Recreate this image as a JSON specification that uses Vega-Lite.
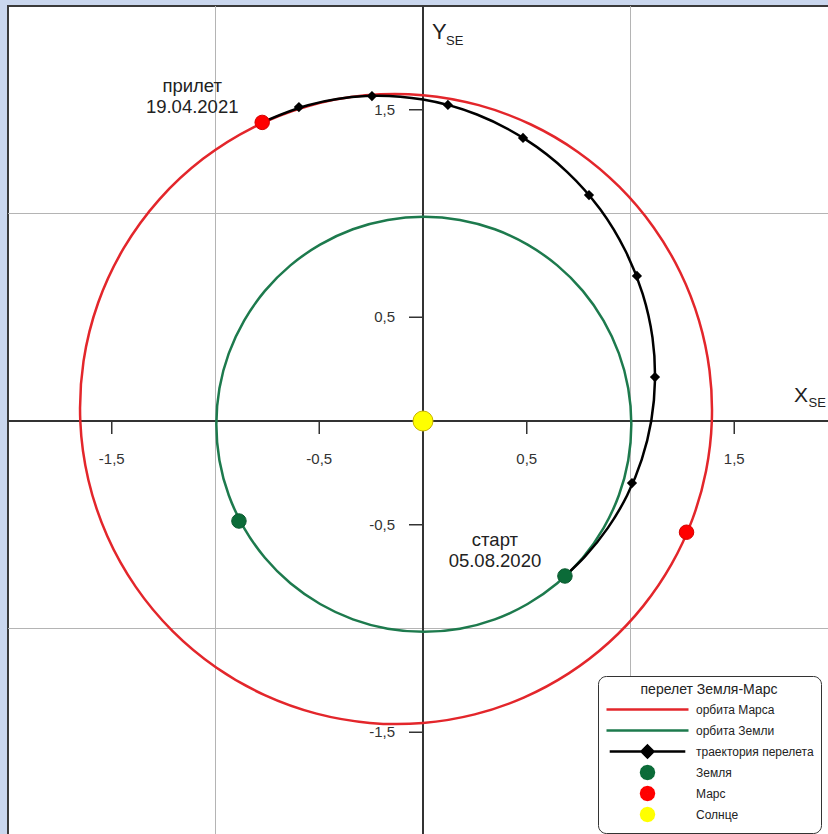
{
  "$schema": "https://vega.github.io/schema/vega-lite/v6.json",
  "width": 830,
  "height": 830,
  "autosize": {"type": "none"},
  "padding": {"left": 8, "top": 6, "right": 0, "bottom": 0},
  "background": "#cad7ee",
  "config": {
    "view": {"fill": "white", "stroke": "#3a3a3a", "strokeWidth": 2},
    "font": "Liberation Sans"
  },
  "datasets": {
    "grid": [{"v": -1}, {"v": 1}],
    "ticks": [
      {"v": -1.5, "label": "-1,5"}, {"v": -0.5, "label": "-0,5"},
      {"v": 0.5, "label": "0,5"}, {"v": 1.5, "label": "1,5"}
    ],
    "mars_orbit": [
      {"i": 0, "x": 1.3919, "y": 0}, {"i": 1, "x": 1.3808, "y": 0.2435}, {"i": 2, "x": 1.3302, "y": 0.4842},
      {"i": 3, "x": 1.2402, "y": 0.716}, {"i": 4, "x": 1.1117, "y": 0.9329}, {"i": 5, "x": 0.9467, "y": 1.1282},
      {"i": 6, "x": 0.748, "y": 1.2956}, {"i": 7, "x": 0.5201, "y": 1.4289}, {"i": 8, "x": 0.2684, "y": 1.5222},
      {"i": 9, "x": 0, "y": 1.5704}, {"i": 10, "x": -0.2768, "y": 1.5697}, {"i": 11, "x": -0.5525, "y": 1.5181},
      {"i": 12, "x": -0.8171, "y": 1.4152}, {"i": 13, "x": -1.0601, "y": 1.2633}, {"i": 14, "x": -1.2714, "y": 1.0669},
      {"i": 15, "x": -1.4423, "y": 0.8327}, {"i": 16, "x": -1.5655, "y": 0.5698}, {"i": 17, "x": -1.636, "y": 0.2885},
      {"i": 18, "x": -1.6516, "y": 0}, {"i": 19, "x": -1.6126, "y": -0.2843}, {"i": 20, "x": -1.5218, "y": -0.5539},
      {"i": 21, "x": -1.3843, "y": -0.7992}, {"i": 22, "x": -1.2067, "y": -1.0125}, {"i": 23, "x": -0.9967, "y": -1.1878},
      {"i": 24, "x": -0.7628, "y": -1.3212}, {"i": 25, "x": -0.5133, "y": -1.4104}, {"i": 26, "x": -0.2565, "y": -1.4549},
      {"i": 27, "x": 0, "y": -1.4554}, {"i": 28, "x": 0.2493, "y": -1.4139}, {"i": 29, "x": 0.4852, "y": -1.3331},
      {"i": 30, "x": 0.7023, "y": -1.2164}, {"i": 31, "x": 0.8959, "y": -1.0676}, {"i": 32, "x": 1.0619, "y": -0.891},
      {"i": 33, "x": 1.1971, "y": -0.6912}, {"i": 34, "x": 1.2986, "y": -0.4727}, {"i": 35, "x": 1.3641, "y": -0.2405}
    ],
    "earth_orbit": [
      {"i": 0, "x": 1.004, "y": -0.016}, {"i": 1, "x": 0.989, "y": 0.158}, {"i": 2, "x": 0.944, "y": 0.326},
      {"i": 3, "x": 0.87, "y": 0.484}, {"i": 4, "x": 0.77, "y": 0.627}, {"i": 5, "x": 0.647, "y": 0.75},
      {"i": 6, "x": 0.504, "y": 0.85}, {"i": 7, "x": 0.346, "y": 0.924}, {"i": 8, "x": 0.178, "y": 0.969},
      {"i": 9, "x": 0.004, "y": 0.984}, {"i": 10, "x": -0.17, "y": 0.969}, {"i": 11, "x": -0.338, "y": 0.924},
      {"i": 12, "x": -0.496, "y": 0.85}, {"i": 13, "x": -0.639, "y": 0.75}, {"i": 14, "x": -0.762, "y": 0.627},
      {"i": 15, "x": -0.862, "y": 0.484}, {"i": 16, "x": -0.936, "y": 0.326}, {"i": 17, "x": -0.981, "y": 0.158},
      {"i": 18, "x": -0.996, "y": -0.016}, {"i": 19, "x": -0.981, "y": -0.19}, {"i": 20, "x": -0.936, "y": -0.358},
      {"i": 21, "x": -0.862, "y": -0.516}, {"i": 22, "x": -0.762, "y": -0.659}, {"i": 23, "x": -0.639, "y": -0.782},
      {"i": 24, "x": -0.496, "y": -0.882}, {"i": 25, "x": -0.338, "y": -0.956}, {"i": 26, "x": -0.17, "y": -1.001},
      {"i": 27, "x": 0.004, "y": -1.016}, {"i": 28, "x": 0.178, "y": -1.001}, {"i": 29, "x": 0.346, "y": -0.956},
      {"i": 30, "x": 0.504, "y": -0.882}, {"i": 31, "x": 0.647, "y": -0.782}, {"i": 32, "x": 0.77, "y": -0.659},
      {"i": 33, "x": 0.87, "y": -0.516}, {"i": 34, "x": 0.944, "y": -0.358}, {"i": 35, "x": 0.989, "y": -0.19}
    ],
    "transfer": [
      {"i": 0, "x": 0.684, "y": -0.747}, {"i": 1, "x": 0.78, "y": -0.654}, {"i": 2, "x": 0.891, "y": -0.515},
      {"i": 3, "x": 0.984, "y": -0.358}, {"i": 4, "x": 1.054, "y": -0.186}, {"i": 5, "x": 1.1, "y": 0},
      {"i": 6, "x": 1.118, "y": 0.197}, {"i": 7, "x": 1.106, "y": 0.402}, {"i": 8, "x": 1.059, "y": 0.612},
      {"i": 9, "x": 0.976, "y": 0.819}, {"i": 10, "x": 0.855, "y": 1.019}, {"i": 11, "x": 0.694, "y": 1.201},
      {"i": 12, "x": 0.494, "y": 1.357}, {"i": 13, "x": 0.26, "y": 1.477}, {"i": 14, "x": 0, "y": 1.549},
      {"i": 15, "x": -0.276, "y": 1.566}, {"i": 16, "x": -0.554, "y": 1.522}, {"i": 17, "x": -0.775, "y": 1.439}
    ],
    "markers": [
      {"x": 1.007, "y": -0.299}, {"x": 1.118, "y": 0.212}, {"x": 1.031, "y": 0.699}, {"x": 0.8, "y": 1.089},
      {"x": 0.482, "y": 1.364}, {"x": 0.12, "y": 1.523}, {"x": -0.246, "y": 1.566}, {"x": -0.598, "y": 1.513}
    ],
    "bodies": [
      {"name": "Земля", "x": 0.684, "y": -0.747, "note": "старт\n05.08.2020"},
      {"name": "Земля", "x": -0.887, "y": -0.482},
      {"name": "Марс", "x": 1.27, "y": -0.536},
      {"name": "Марс", "x": -0.775, "y": 1.439, "note": "прилет\n19.04.2021"}
    ],
    "sun": [{"name": "Солнце", "x": 0, "y": 0}],
    "legend_items": [
      {"name": "орбита Марса"}, {"name": "орбита Земли"}, {"name": "траектория перелета"},
      {"name": "Земля"}, {"name": "Марс"}, {"name": "Солнце"}
    ]
  },
  "layer": [
    {
      "data": {"name": "grid"},
      "mark": {"type": "rule", "color": "#b4b4b4", "strokeWidth": 1},
      "encoding": {
        "x": {"field": "v", "type": "quantitative", "scale": {"domain": [-2, 2], "nice": false, "zero": false}, "axis": null}
      }
    },
    {
      "data": {"name": "grid"},
      "mark": {"type": "rule", "color": "#b4b4b4", "strokeWidth": 1},
      "encoding": {
        "y": {"field": "v", "type": "quantitative", "scale": {"domain": [-2, 2], "nice": false, "zero": false}, "axis": null}
      }
    },
    {
      "data": {"values": [{}]},
      "layer": [
        {
          "mark": {"type": "rule", "color": "#333333", "strokeWidth": 2},
          "encoding": {"y": {"datum": 0, "type": "quantitative", "axis": null}}
        },
        {
          "mark": {"type": "rule", "color": "#333333", "strokeWidth": 2},
          "encoding": {"x": {"datum": 0, "type": "quantitative", "axis": null}}
        }
      ]
    },
    {
      "data": {"name": "ticks"},
      "layer": [
        {
          "mark": {"type": "rule", "color": "#333333", "strokeWidth": 1.5},
          "encoding": {
            "x": {"field": "v", "type": "quantitative", "axis": null},
            "y": {"datum": 0, "type": "quantitative", "axis": null},
            "y2": {"datum": -0.0627}
          }
        },
        {
          "mark": {"type": "rule", "color": "#333333", "strokeWidth": 1.5},
          "encoding": {
            "y": {"field": "v", "type": "quantitative", "axis": null},
            "x": {"datum": 0, "type": "quantitative", "axis": null},
            "x2": {"datum": -0.0675}
          }
        },
        {
          "mark": {"type": "text", "align": "center", "baseline": "middle", "dy": 38, "fontSize": 15, "color": "#333333"},
          "encoding": {
            "x": {"field": "v", "type": "quantitative", "axis": null},
            "y": {"datum": 0, "type": "quantitative", "axis": null},
            "text": {"field": "label"}
          }
        },
        {
          "mark": {"type": "text", "align": "right", "baseline": "middle", "dx": -28, "fontSize": 15, "color": "#333333"},
          "encoding": {
            "y": {"field": "v", "type": "quantitative", "axis": null},
            "x": {"datum": 0, "type": "quantitative", "axis": null},
            "text": {"field": "label"}
          }
        }
      ]
    },
    {
      "data": {"name": "mars_orbit"},
      "mark": {"type": "line", "color": "#e3262b", "strokeWidth": 2.5, "interpolate": "cardinal-closed"},
      "encoding": {
        "x": {"field": "x", "type": "quantitative", "axis": null},
        "y": {"field": "y", "type": "quantitative", "axis": null},
        "order": {"field": "i", "type": "quantitative"}
      }
    },
    {
      "data": {"name": "earth_orbit"},
      "mark": {"type": "line", "color": "#1d7a4d", "strokeWidth": 2.5, "interpolate": "cardinal-closed"},
      "encoding": {
        "x": {"field": "x", "type": "quantitative", "axis": null},
        "y": {"field": "y", "type": "quantitative", "axis": null},
        "order": {"field": "i", "type": "quantitative"}
      }
    },
    {
      "data": {"name": "transfer"},
      "mark": {"type": "line", "color": "#000000", "strokeWidth": 2.5, "interpolate": "catmull-rom"},
      "encoding": {
        "x": {"field": "x", "type": "quantitative", "axis": null},
        "y": {"field": "y", "type": "quantitative", "axis": null},
        "order": {"field": "i", "type": "quantitative"}
      }
    },
    {
      "data": {"name": "markers"},
      "mark": {"type": "point", "shape": "diamond", "filled": true, "color": "#000000", "size": 105, "opacity": 1},
      "encoding": {
        "x": {"field": "x", "type": "quantitative", "axis": null},
        "y": {"field": "y", "type": "quantitative", "axis": null}
      }
    },
    {
      "data": {"name": "bodies"},
      "mark": {"type": "point", "shape": "circle", "filled": true, "size": 210, "opacity": 1, "strokeWidth": 1},
      "encoding": {
        "x": {"field": "x", "type": "quantitative", "axis": null},
        "y": {"field": "y", "type": "quantitative", "axis": null},
        "fill": {"field": "name", "type": "nominal", "scale": {"domain": ["Земля", "Марс"], "range": ["#0b6b38", "#ff0000"]}, "legend": null},
        "stroke": {"field": "name", "type": "nominal", "scale": {"domain": ["Земля", "Марс"], "range": ["#0a5a30", "#d40000"]}, "legend": null}
      }
    },
    {
      "data": {"name": "sun"},
      "mark": {"type": "point", "shape": "circle", "filled": true, "size": 400, "opacity": 1, "fill": "#ffff00", "stroke": "#c8b400", "strokeWidth": 1},
      "encoding": {
        "x": {"field": "x", "type": "quantitative", "axis": null},
        "y": {"field": "y", "type": "quantitative", "axis": null}
      }
    },
    {
      "data": {"name": "bodies"},
      "transform": [{"filter": "isValid(datum.note)"}],
      "mark": {"type": "text", "align": "center", "baseline": "alphabetic", "dx": -70, "dy": -30, "fontSize": 18.5, "lineHeight": 21, "lineBreak": "\n", "color": "#222222"},
      "encoding": {
        "x": {"field": "x", "type": "quantitative", "axis": null},
        "y": {"field": "y", "type": "quantitative", "axis": null},
        "text": {"field": "note"}
      }
    },
    {
      "data": {"values": [{}]},
      "layer": [
        {
          "mark": {"type": "text", "text": "X", "align": "left", "baseline": "alphabetic", "fontSize": 21, "color": "#222222"},
          "encoding": {"x": {"datum": 1.788, "type": "quantitative", "axis": null}, "y": {"datum": 0.0916, "type": "quantitative", "axis": null}}
        },
        {
          "mark": {"type": "text", "text": "SE", "align": "left", "baseline": "alphabetic", "fontSize": 13, "color": "#222222"},
          "encoding": {"x": {"datum": 1.858, "type": "quantitative", "axis": null}, "y": {"datum": 0.0675, "type": "quantitative", "axis": null}}
        },
        {
          "mark": {"type": "text", "text": "Y", "align": "left", "baseline": "alphabetic", "fontSize": 22, "color": "#222222"},
          "encoding": {"x": {"datum": 0.0434, "type": "quantitative", "axis": null}, "y": {"datum": 1.841, "type": "quantitative", "axis": null}}
        },
        {
          "mark": {"type": "text", "text": "SE", "align": "left", "baseline": "alphabetic", "fontSize": 13, "color": "#222222"},
          "encoding": {"x": {"datum": 0.111, "type": "quantitative", "axis": null}, "y": {"datum": 1.812, "type": "quantitative", "axis": null}}
        }
      ]
    },
    {
      "data": {"name": "legend_items"},
      "mark": {"type": "point", "filled": false, "opacity": 1, "strokeWidth": 2.5},
      "encoding": {
        "x": {"field": "x", "type": "quantitative", "axis": null},
        "y": {"field": "y", "type": "quantitative", "axis": null},
        "color": {
          "field": "name", "type": "nominal",
          "scale": {
            "domain": ["орбита Марса", "орбита Земли", "траектория перелета", "Земля", "Марс", "Солнце"],
            "range": ["#e3262b", "#1d7a4d", "#000000", "#0b6b38", "#ff0000", "#ffff00"]
          },
          "legend": {
            "title": "перелет Земля-Марс", "orient": "none", "legendX": 590, "legendY": 670,
            "titleFont": "Liberation Sans", "titleFontSize": 14, "titleFontWeight": "normal", "titleColor": "#222222",
            "titleAnchor": "middle", "titlePadding": 3,
            "labelFont": "Liberation Sans", "labelFontSize": 12, "labelColor": "#222222", "labelOffset": 72,
            "symbolSize": 256, "symbolStrokeWidth": 2.5, "symbolOpacity": 1,
            "gridAlign": "all", "rowPadding": -4, "padding": 7,
            "strokeColor": "#333333", "fillColor": "#ffffff", "cornerRadius": 8
          }
        },
        "shape": {
          "field": "name", "type": "nominal",
          "scale": {
            "domain": ["орбита Марса", "орбита Земли", "траектория перелета", "Земля", "Марс", "Солнце"],
            "range": [
              "M-1,0H9.25",
              "M-1,0H9.25",
              "M-0.6,0H8.85M4.125,-0.175L4.3,0L4.125,0.175L3.95,0ZM4.125,-0.5L4.625,0L4.125,0.5L3.625,0ZM4.125,-0.74L4.865,0L4.125,0.74L3.385,0Z",
              "M4.325,0L4.225,0.173L4.025,0.173L3.925,0L4.025,-0.173L4.225,-0.173ZM4.625,0L4.558,0.25L4.375,0.433L4.125,0.5L3.875,0.433L3.692,0.25L3.625,0L3.692,-0.25L3.875,-0.433L4.125,-0.5L4.375,-0.433L4.558,-0.25ZM4.9375,0L4.8286,0.4063L4.5313,0.7036L4.125,0.8125L3.7187,0.7036L3.4214,0.4063L3.3125,0L3.4214,-0.4063L3.7187,-0.7036L4.125,-0.8125L4.5313,-0.7036L4.8286,-0.4063Z",
              "M4.325,0L4.225,0.173L4.025,0.173L3.925,0L4.025,-0.173L4.225,-0.173ZM4.625,0L4.558,0.25L4.375,0.433L4.125,0.5L3.875,0.433L3.692,0.25L3.625,0L3.692,-0.25L3.875,-0.433L4.125,-0.5L4.375,-0.433L4.558,-0.25ZM4.9375,0L4.8286,0.4063L4.5313,0.7036L4.125,0.8125L3.7187,0.7036L3.4214,0.4063L3.3125,0L3.4214,-0.4063L3.7187,-0.7036L4.125,-0.8125L4.5313,-0.7036L4.8286,-0.4063Z",
              "M4.325,0L4.225,0.173L4.025,0.173L3.925,0L4.025,-0.173L4.225,-0.173ZM4.625,0L4.558,0.25L4.375,0.433L4.125,0.5L3.875,0.433L3.692,0.25L3.625,0L3.692,-0.25L3.875,-0.433L4.125,-0.5L4.375,-0.433L4.558,-0.25ZM4.9375,0L4.8286,0.4063L4.5313,0.7036L4.125,0.8125L3.7187,0.7036L3.4214,0.4063L3.3125,0L3.4214,-0.4063L3.7187,-0.7036L4.125,-0.8125L4.5313,-0.7036L4.8286,-0.4063Z"
            ]
          },
          "legend": {
            "title": "перелет Земля-Марс", "orient": "none", "legendX": 590, "legendY": 670
          }
        }
      }
    }
  ]
}
